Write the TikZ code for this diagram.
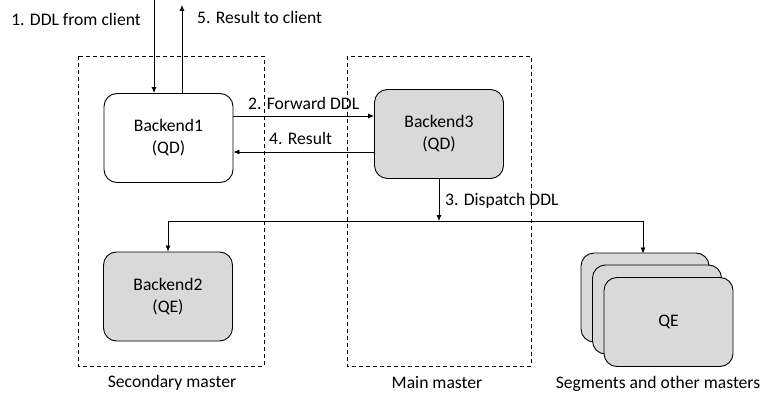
\documentclass[tikz,border=0pt]{standalone}
\usepackage{fontspec}
\setmainfont{Carlito}
\usetikzlibrary{arrows.meta,calc}
\definecolor{boxgray}{HTML}{D9D9D9}
\begin{document}
\begin{tikzpicture}[x=1pt,y=-1pt,
  every node/.style={font=\fontsize{17.6}{22}\selectfont},
  box/.style={draw, line width=0.9pt, rounded corners=13pt, minimum width=129pt, minimum height=89pt, align=center, inner sep=0pt},
  grayb/.style={box, fill=boxgray},
  group/.style={draw, dashed, dash pattern=on 4pt off 3pt, line width=0.8pt},
  arr/.style={-{Latex[length=6pt,width=5pt]}, line width=0.8pt},
  lbl/.style={inner sep=0pt}]
\useasboundingbox (0,0) rectangle (775,406);
% group frames
\draw[group] (78,56) rectangle (264,366);
\draw[group] (347,56) rectangle (531,366);
\node[lbl] (lsec) at (172,383) {Secondary master};
\node[lbl] (lmain) at (437,383) {Main master};
% nodes
\node[box] (b1) at (168.5,138) {Backend1\\(QD)};
\node[grayb] (b3) at (439,134) {Backend3\\(QD)};
\node[grayb] (b2) at (168,296.5) {Backend2\\(QE)};
\node[grayb, minimum width=128pt] (s1) at (645,297.5) {};
\node[grayb] (s2) at (657,309.5) {};
\node[grayb] (s3) at (668.5,322) {QE};
\node[lbl] (lseg) at (658,384) {Segments and other masters};
% client arrows
\coordinate (cin) at (154,0);
\coordinate (cout) at (182,5);
\draw[arr] (cin) -- (cin |- b1.north);
\draw[arr] (cout |- b1.north) -- (cout);
\node[lbl, anchor=east] (l1) at (141,19) {1. DDL from client};
\node[lbl, anchor=west] (l5) at (197,17) {5. Result to client};
% forward / result
\draw[arr] (b1.east |- 0,116) -- (b3.west |- 0,116);
\draw[arr] (b3.west |- 0,152) -- (b1.east |- 0,152);
\node[lbl, anchor=west] (l2) at (248,103) {2. Forward DDL};
\node[lbl, anchor=west] (l4) at (269,138) {4. Result};
% dispatch
\coordinate (split) at (439,221);
\draw[arr] (b3.south) -- (split);
\draw[arr] (split) -| (b2.north);
\draw[arr] (split) -| (643,253.5);
\node[lbl, anchor=west] (l3) at (445,201) {3. Dispatch DDL};
\end{tikzpicture}
\end{document}
